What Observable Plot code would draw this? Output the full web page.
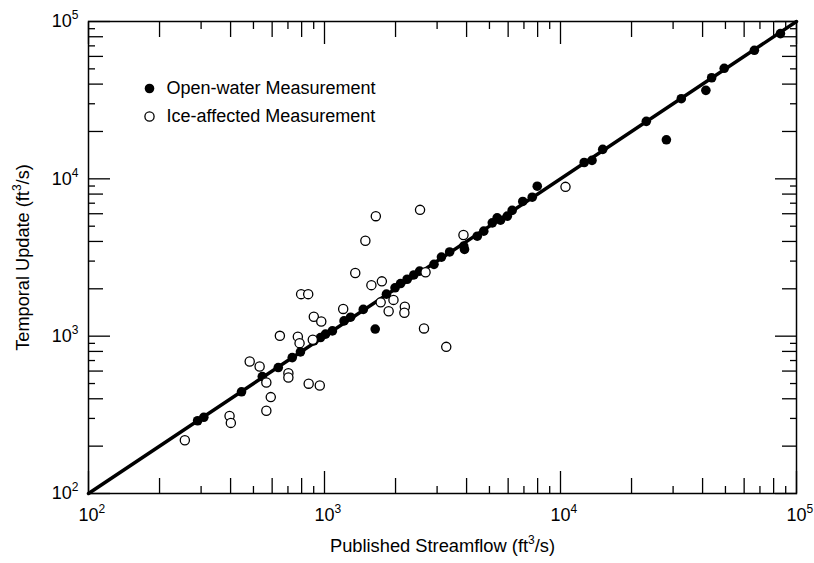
<!DOCTYPE html>
<html><head><meta charset="utf-8">
<script src="https://cdn.jsdelivr.net/npm/d3@7"></script>
<script src="https://cdn.jsdelivr.net/npm/@observablehq/plot@0.6"></script>
<style>body{margin:0;background:#fff}#chart{position:absolute;left:0;top:0}</style>
</head><body><div id="chart"></div>
<script>
// Open-water measurements: published streamflow vs temporal update (ft3/s)
const openPublished = [290,308,445,545,637,730,791,901,962,1010,1080,1210,1290,1460,1640,1830,1990,2100,2240,2390,2530,2910,3130,3390,3890,3920,4440,4730,5140,5390,5570,5950,6240,6920,7590,7970,12600,13600,15100,23100,28100,32500,41300,43700,49400,66300,85500];
const openTemporal  = [290,305,443,554,632,731,795,933,980,1030,1080,1250,1320,1480,1110,1850,2030,2160,2300,2450,2590,2860,3180,3430,3740,3560,4320,4650,5250,5650,5460,5790,6300,7180,7640,8980,12700,13100,15400,23200,17700,32300,36500,43900,50400,65600,83800];
// Ice-affected measurements
const icePublished = [256,396,401,482,531,567,592,567,647,771,784,796,853,901,969,892,703,703,857,955,1650,2540,1490,1350,1580,1750,1200,1730,1960,1870,2190,2180,2640,3280,3880,2680,10500];
const iceTemporal  = [218,311,281,690,641,508,410,336,1005,993,903,1850,1850,1330,1240,948,582,546,499,486,5790,6350,4040,2520,2110,2230,1490,1640,1700,1440,1540,1410,1120,855,4400,2550,8890];
// 1:1 line ends
const lineEnds = [100, 100000];
const legendLabels = ["Open-water Measurement", "Ice-affected Measurement"];
const xTitle = "Published Streamflow (ft^3/s)";
const yTitle = "Temporal Update (ft^3/s)";
const decades = [100, 1000, 10000, 100000];
const decadeLabels = ["10^2", "10^3", "10^4", "10^5"];
const evenMult = [2, 4, 6, 8];
const oddMult = [3, 5, 7, 9];

const openData = openPublished.map((x, i) => ({x, y: openTemporal[i]}));
const iceData = icePublished.map((x, i) => ({x, y: iceTemporal[i]}));
const evenTicks = decades.slice(0, 3).flatMap(d => evenMult.map(m => m * d));
const oddTicks = decades.slice(0, 3).flatMap(d => oddMult.map(m => m * d));

const tickSets = [[decades, 22], [evenTicks, 15], [oddTicks, 7]];
const tickMarks = [];
for (const [set, len] of tickSets) {
  for (const anchor of ["bottom", "top"])
    tickMarks.push(Plot.axisX({ticks: set, anchor, tickSize: -len, tickFormat: () => "", label: null, strokeWidth: 1.3}));
  for (const anchor of ["left", "right"])
    tickMarks.push(Plot.axisY({ticks: set, anchor, tickSize: -len, tickFormat: () => "", label: null, strokeWidth: 1.3}));
}
const fmt = d => decadeLabels[decades.indexOf(d)];

const chart = Plot.plot({
  width: 814, height: 563,
  marginLeft: 88, marginRight: 18, marginTop: 21, marginBottom: 70,
  style: {fontFamily: "'Liberation Sans', Arial, sans-serif", fontSize: "18px", background: "#fff", color: "#000"},
  x: {type: "log", domain: [100, 100000]},
  y: {type: "log", domain: [100, 100000]},
  marks: [
    ...tickMarks,
    Plot.axisX({ticks: decades, anchor: "bottom", tickSize: 0, tickPadding: 15, tickFormat: fmt, label: null, fontSize: 18}),
    Plot.axisY({ticks: decades, anchor: "left", tickSize: 0, tickPadding: 10, tickFormat: fmt, label: null, fontSize: 18}),
    Plot.line(lineEnds, {x: d => d, y: d => d, stroke: "#000", strokeWidth: 3.5}),
    Plot.dot(openData, {x: "x", y: "y", r: 4.8, fill: "#000", stroke: "none"}),
    Plot.dot(iceData, {x: "x", y: "y", r: 4.6, fill: "#fff", stroke: "#000", strokeWidth: 1.3}),
    Plot.frame({stroke: "#000", strokeWidth: 1.5}),
    Plot.dot([legendLabels[0]], {frameAnchor: "top-left", dx: 61, dy: 67, r: 4.8, fill: "#000", stroke: "none"}),
    Plot.dot([legendLabels[1]], {frameAnchor: "top-left", dx: 61, dy: 95, r: 4.6, fill: "#fff", stroke: "#000", strokeWidth: 1.3}),
    Plot.text([legendLabels[0]], {text: d => d, frameAnchor: "top-left", dx: 78, dy: 67, textAnchor: "start", lineAnchor: "middle", fontSize: 18, fill: "#000"}),
    Plot.text([legendLabels[1]], {text: d => d, frameAnchor: "top-left", dx: 78, dy: 95, textAnchor: "start", lineAnchor: "middle", fontSize: 18, fill: "#000"}),
    Plot.text([xTitle], {text: d => d, frameAnchor: "bottom", dy: 53, textAnchor: "middle", lineAnchor: "middle", fontSize: 18.3, fill: "#000"}),
    Plot.text([yTitle], {text: d => d, frameAnchor: "left", dx: -65, rotate: -90, textAnchor: "middle", lineAnchor: "middle", fontSize: 18.2, fill: "#000"})
  ]
});

function superscript(el, supPx, shiftPx) {
  const s = el.textContent;
  if (!s.includes("^")) return;
  const parts = s.split(/\^(.)/);
  el.textContent = "";
  const NS = "http://www.w3.org/2000/svg";
  let raised = false;
  parts.forEach((p, i) => {
    if (p === "") { return; }
    const t = document.createElementNS(NS, "tspan");
    t.textContent = p;
    if (i % 2 === 1) {
      t.setAttribute("font-size", supPx);
      t.setAttribute("dy", -shiftPx);
      raised = true;
    } else if (raised) {
      t.setAttribute("dy", shiftPx);
      raised = false;
    }
    el.appendChild(t);
  });
}
chart.querySelectorAll('g[aria-label="x-axis tick label"] text').forEach(t => {
  t.setAttribute("text-anchor", "start");
  t.setAttribute("dx", -10);
});
chart.querySelectorAll("text").forEach(t => {
  const fs = parseFloat(t.getAttribute("font-size") || t.parentNode.getAttribute("font-size") || 18);
  superscript(t, Math.round(fs * 0.64), Math.round(fs * 0.42));
});
document.getElementById("chart").appendChild(chart);
</script>
</body></html>
